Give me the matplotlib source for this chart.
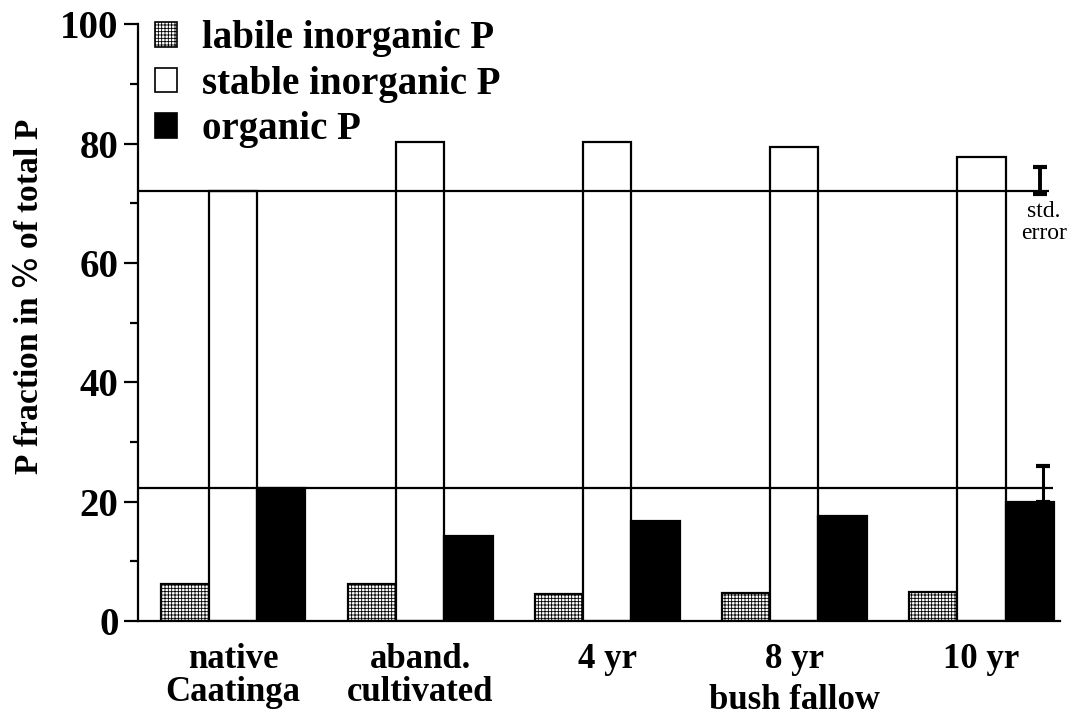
import matplotlib
matplotlib.use("Agg")
import matplotlib.pyplot as plt
import numpy as np
from matplotlib.patches import Patch

categories = ["native\nCaatinga", "aband.\ncultivated", "4 yr", "8 yr", "10 yr"]
labile = [6.2, 6.2, 4.6, 4.7, 4.9]
stable = [72.0, 80.2, 80.3, 79.4, 77.7]
organic = [22.3, 14.3, 16.8, 17.6, 20.0]
organic_err = [0, 0, 0, 0, 6.0]
yticks = [0, 20, 40, 60, 80, 100]

plt.rcParams['font.family'] = ['Liberation Serif', 'DejaVu Serif']
plt.rcParams['hatch.linewidth'] = 0.6

fig = plt.figure(figsize=(10.74, 7.26), dpi=100)
ax = fig.add_axes([0.1285, 0.1446, 0.8585, 0.822])

x = np.arange(len(categories))
w = 0.258
ax.bar(x - w, labile, w, facecolor='white', edgecolor='black', hatch='+++++', linewidth=1.6)
ax.bar(x, stable, w, facecolor='white', edgecolor='black', linewidth=1.6)
ax.bar(x + w, organic, w, facecolor='black', edgecolor='black', linewidth=1.6)
ax.errorbar(x[4] + 0.33, organic[4], yerr=[[0], [organic_err[4]]], fmt='none',
            ecolor='black', elinewidth=2.2, capsize=5, capthick=3)

# reference lines at native Caatinga levels
ax.hlines(stable[0], -0.508, 4.36, color='black', linewidth=1.6)
ax.hlines(organic[0], -0.508, 4.385, color='black', linewidth=1.6)

# std. error key
ax.errorbar([4.315], [73.8], yerr=[[2.3], [2.3]], fmt='none', ecolor='black',
            elinewidth=2.8, capsize=5, capthick=3)
ax.text(4.335, 70.3, "std.\nerror", ha='center', va='top', fontsize=17, linespacing=1.05)

ax.set_xlim(-0.508, 4.42)
ax.set_ylim(0, 100)
ax.set_yticks(yticks)
ax.set_yticklabels([str(t) for t in yticks], fontsize=28, fontweight='bold')
ax.set_yticks([10, 30, 50, 70, 90], minor=True)
ax.tick_params(axis='y', which='major', length=10, width=1.6, direction='out', pad=4)
ax.tick_params(axis='y', which='minor', length=6, width=1.6, direction='out')
ax.set_xticks(x)
ax.set_xticklabels(categories, fontsize=25, fontweight='bold', linespacing=1.0)
ax.tick_params(axis='x', length=0, pad=16)
ax.text(x[3], -10.6, "bush fallow", ha='center', va='top', fontsize=25, fontweight='bold')

ax.spines['top'].set_visible(False)
ax.spines['right'].set_visible(False)
ax.spines['left'].set_linewidth(1.6)
ax.spines['bottom'].set_linewidth(1.6)

ax.set_ylabel("P fraction in $\\mathit{\\%}$ of total P", fontsize=24, fontweight='bold')
ax.yaxis.set_label_coords(-0.101, 0.544)

handles = [Patch(facecolor='white', edgecolor='black', hatch='+++++', linewidth=1.2),
           Patch(facecolor='white', edgecolor='black', linewidth=1.2),
           Patch(facecolor='black', edgecolor='black', linewidth=1.2)]
leg = fig.legend(handles, ["labile inorganic P", "stable inorganic P", "organic P"],
                 loc='upper left', bbox_to_anchor=(155 / 1074, 1 - 20 / 726), frameon=False,
                 prop={'size': 28, 'weight': 'bold'}, handlelength=0.57, handleheight=0.6,
                 handletextpad=0.64, labelspacing=0.22, borderpad=0, borderaxespad=0)

fig.savefig("out.png", dpi=100)
